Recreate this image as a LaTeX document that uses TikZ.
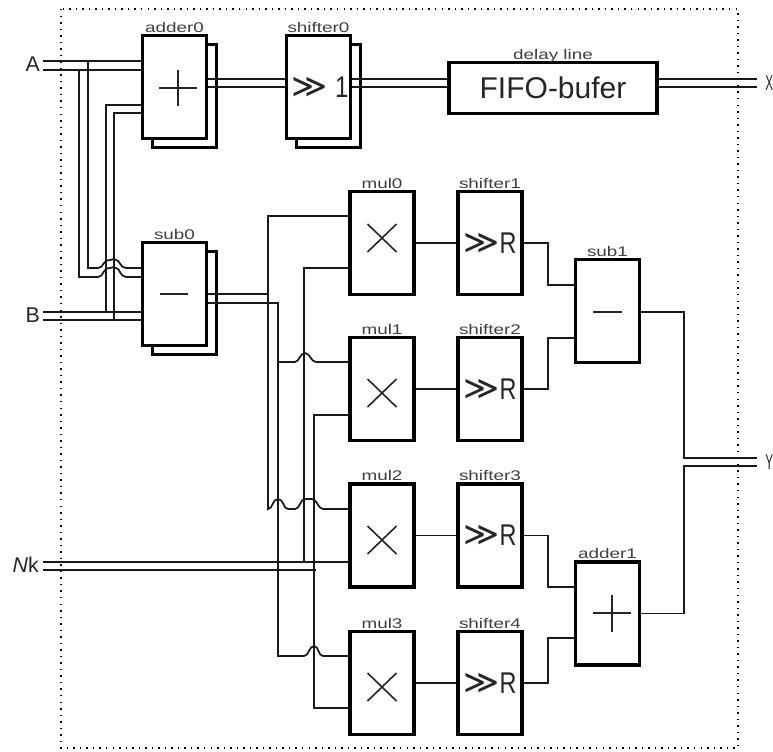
\documentclass[tikz,border=0pt]{standalone}
\usepackage{graphicx}
\usepackage{fontspec}
\setmainfont{Liberation Sans}
\newfontfamily\symfont{DejaVu Sans}
\newcommand{\lbl}[1]{\scalebox{1.35}[1]{\fontsize{10.5}{12}\selectfont #1}}
\newcommand{\shf}[1]{\fontsize{22.5}{24}\selectfont\scalebox{1.15}[1.1]{\symfont ≫}\scalebox{0.78}[1]{#1}}
\tikzset{
  wire/.style={draw=black!90,line width=1.3pt,line join=miter},
  opsym/.style={draw=black!85,line width=1.2pt},
  blk/.style={draw=black,fill=white,line width=2.6pt,inner sep=0pt,outer sep=0pt,
     minimum width=48pt,minimum height=77.25pt,text=black!85,align=center},
  ghost/.style={blk,draw=none,fill=none},
  blocktitle/.style={inner sep=0pt,text=black!75,text height=7.6pt,text depth=0pt},
  pinlabel/.style={inner sep=0pt,text=black!85,font=\fontsize{16}{17}\selectfont},
  bframe/.style={draw=black,line width=1.1pt,dash pattern=on 1.1pt off 3.8pt},
}
\begin{document}
\begin{tikzpicture}[x=0.75pt,y=-0.75pt,label distance=2.2pt]
\clip (0,0) rectangle (773,751);
\fill[white] (0,0) rectangle (773,751);
\draw[bframe] (61,9) rectangle (738,748);

% pin labels
\node[pinlabel,anchor=east] (lA) at (40,64) {A};
\node[pinlabel,anchor=east] (lB) at (40,315) {B};
\node[pinlabel,anchor=east] (lN) at (39,565) {\textit{N}k};
\node[pinlabel,anchor=west] (lX) at (765,83) {\scalebox{0.55}[1]{X}};
\node[pinlabel,anchor=west] (lY) at (765,462) {\scalebox{0.55}[1]{Y}};

% free wire ends
\coordinate (a1) at (43,61);
\coordinate (a2) at (43,70);
\coordinate (b1) at (43,312);
\coordinate (b2) at (43,320);
\coordinate (n1) at (43,562);
\coordinate (n2) at (43,570);
\coordinate (x1) at (757,79);
\coordinate (x2) at (757,87);
\coordinate (y1) at (757,458);
\coordinate (y2) at (757,466);

% rear layers of the stacked blocks
\node[blk] (adder0b) at (184.5,96) {};
\node[blk] (shifter0b) at (328.5,96) {};
\node[blk] (sub0b) at (184.5,303) {};

% block outlines used as wire anchors; front faces are drawn after the wires
\node[ghost] (adder0) at (174.5,87) {};
\node[ghost] (shifter0) at (318.5,87) {};
\node[ghost] (sub0) at (174.5,294) {};
\node[ghost,minimum width=156pt,minimum height=38.25pt] (fifo) at (553,88) {};
\node[ghost] (mul0) at (382,243) {};
\node[ghost] (mul1) at (382,389) {};
\node[ghost] (mul2) at (382,535.5) {};
\node[ghost] (mul3) at (382,683) {};
\node[ghost] (shifter1) at (490,243) {};
\node[ghost] (shifter2) at (490,389) {};
\node[ghost] (shifter3) at (490,535.5) {};
\node[ghost] (shifter4) at (490,683) {};
\node[ghost] (sub1) at (607.5,311) {};
\node[ghost] (adder1) at (607.5,613.5) {};

% input wires
\draw[wire] (a1) -- (a1 -| adder0.west);
\draw[wire] (a2) -- (a2 -| adder0.west);
\draw[wire] (b1) -- (b1 -| sub0.west);
\draw[wire] (b2) -- (b2 -| sub0.west);
\draw[wire] (n1) -- (n1 -| mul2.west);
\draw[wire] (n2) -- (316,570);
% A to sub0 with hops
\draw[wire] (88,61) -- (88,268) -- (98,268) .. controls (104,268) and (102,260) .. (110,260)
   .. controls (112,259) and (114,259) .. (116,260) .. controls (120,260) and (120,268) .. (126,268) -- (sub0.west |- 0,268);
\draw[wire] (79,70) -- (79,277) -- (98,277) .. controls (104,277) and (102,268) .. (110,268)
   .. controls (112,267) and (114,267) .. (116,268) .. controls (120,268) and (120,277) .. (126,277) -- (sub0.west |- 0,277);
% B to adder0
\draw[wire] (106,312) -- (106,105) -- (adder0.west |- 0,105);
\draw[wire] (114,320) -- (114,113) -- (adder0.west |- 0,113);
% data path top
\coordinate (t1) at (0,79);
\coordinate (t2) at (0,87);
\draw[wire] (t1 -| adder0.east) -- (t1 -| shifter0.west);
\draw[wire] (t2 -| adder0.east) -- (t2 -| shifter0.west);
\draw[wire] (t1 -| shifter0.east) -- (t1 -| fifo.west);
\draw[wire] (t2 -| shifter0.east) -- (t2 -| fifo.west);
\draw[wire] (t1 -| fifo.east) -- (x1);
\draw[wire] (t2 -| fifo.east) -- (x2);
% sub0 outputs
\draw[wire] (mul0.west |- 0,216) -- (268,216) -- (268,509)
  .. controls (273,509) and (272,499) .. (278,499) .. controls (284,499) and (283,509) .. (288,509)
  -- (295,509) .. controls (300,509) and (300,499) .. (305,499) -- (312,499)
  .. controls (317,499) and (318,509) .. (323,509) -- (mul2.west |- 0,509);
\draw[wire] (sub0.east |- 0,294) -- (268,294);
\draw[wire] (sub0.east |- 0,303) -- (278,303) -- (278,656) -- (304,656)
  .. controls (309,656) and (309,646) .. (314,646) .. controls (319,646) and (318,656) .. (323,656)
  -- (mul3.west |- 0,656);
\draw[wire] (278,362) -- (295,362) .. controls (299,362) and (300,353) .. (305,353)
  .. controls (310,353) and (311,362) .. (316,362) -- (mul1.west |- 0,362);
\draw[wire] (mul0.west |- 0,268) -- (304,268) -- (304,563);
\draw[wire] (mul1.west |- 0,415) -- (314,415) -- (314,708) -- (mul3.west |- 0,708);
% mul to shifter
\draw[wire] (mul0) -- (shifter1);
\draw[wire] (mul1) -- (shifter2);
\draw[wire] (mul2) -- (shifter3);
\draw[wire] (mul3) -- (shifter4);
% shifters to sub1 / adder1
\draw[wire] (shifter1.east) -- (548,243) -- (548,285) -- (sub1.west |- 0,285);
\draw[wire] (shifter2.east) -- (548,389) -- (548,338) -- (sub1.west |- 0,338);
\draw[wire] (shifter3.east) -- (548,535.5) -- (548,587) -- (adder1.west |- 0,587);
\draw[wire] (shifter4.east) -- (548,683) -- (548,638) -- (adder1.west |- 0,638);
% outputs to Y
\draw[wire] (sub1.east |- 0,312) -- (684,312) -- (684,458) -- (y1);
\draw[wire] (adder1.east) -- (684,613.5) -- (684,466) -- (y2);

% front faces
\node[blk,label={[blocktitle]above:\lbl{adder0}}] (adder0f) at (adder0) {};
\node[blk,label={[blocktitle]above:\lbl{shifter0}}] (shifter0f) at (shifter0) {\hspace{2pt}\shf{}\hspace{6pt}\fontsize{22.5}{24}\selectfont\scalebox{0.8}[1]{1}};
\node[blk,label={[blocktitle]above:\lbl{sub0}}] (sub0f) at (sub0) {};
\node[blk,minimum width=156pt,minimum height=38.25pt,font=\fontsize{22.5}{24}\selectfont,label={[blocktitle]above:\lbl{delay line}}] (fifof) at (fifo) {FIFO-bufer};
\node[blk,label={[blocktitle]above:\lbl{mul0}}] (mul0f) at (mul0) {};
\node[blk,label={[blocktitle]above:\lbl{mul1}}] (mul1f) at (mul1) {};
\node[blk,label={[blocktitle]above:\lbl{mul2}}] (mul2f) at (mul2) {};
\node[blk,label={[blocktitle]above:\lbl{mul3}}] (mul3f) at (mul3) {};
\node[blk,label={[blocktitle]above:\lbl{shifter1}}] (shifter1f) at (shifter1) {\shf{R}};
\node[blk,label={[blocktitle]above:\lbl{shifter2}}] (shifter2f) at (shifter2) {\shf{R}};
\node[blk,label={[blocktitle]above:\lbl{shifter3}}] (shifter3f) at (shifter3) {\shf{R}};
\node[blk,label={[blocktitle]above:\lbl{shifter4}}] (shifter4f) at (shifter4) {\shf{R}};
\node[blk,label={[blocktitle]above:\lbl{sub1}}] (sub1f) at (sub1) {};
\node[blk,label={[blocktitle]above:\lbl{adder1}}] (adder1f) at (adder1) {};

% operator symbols
\draw[opsym] (159,88) -- (197,88) (178,70) -- (178,106);
\draw[opsym] (160,294) -- (188,294);
\draw[opsym] (593,312) -- (622,312);
\draw[opsym] (593,613) -- (631,613) (612,595) -- (612,632);
\foreach \cy in {238,393,540,687}
  \draw[opsym] (367.5,\cy-14) -- (396.5,\cy+14) (367.5,\cy+14) -- (396.5,\cy-14);
\end{tikzpicture}
\end{document}
